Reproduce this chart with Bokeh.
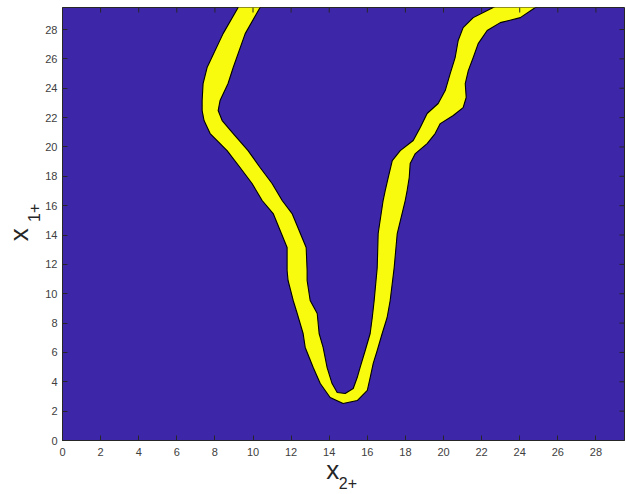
import math
from bokeh.plotting import figure
from bokeh.models import Range1d, FixedTicker, LinearAxis
from bokeh.embed import file_html
from bokeh.resources import INLINE

# Filled-contour band (upper level) traced as two boundary curves.
# outer: left edge of left arm -> around the bottom -> right edge of right arm
outer_x = [9.53, 9.22, 8.43, 7.59, 7.38, 7.33, 7.33, 7.43, 7.75, 8.64, 9.32, 9.95,
           10.48, 11.06, 11.79, 11.79, 11.84, 12.11, 12.32, 12.63, 12.74, 13.16,
           13.53, 14.05, 14.73, 15.47, 16.00, 16.15, 16.31, 16.52, 16.78, 17.04,
           17.20, 17.41, 17.57, 17.99, 18.09, 18.20, 18.25, 18.52, 19.14, 19.56,
           19.83, 20.51, 21.03, 21.19, 21.14, 21.30, 21.56, 21.82, 22.29, 22.98,
           24.03, 24.82, 25.62]
outer_y = [30.2, 29.5, 27.72, 25.41, 24.32, 23.16, 22.48, 21.80, 20.91, 19.75, 18.60,
           17.51, 16.35, 15.46, 13.15, 11.58, 10.90, 9.54, 8.65, 7.29, 6.34, 4.97,
           3.88, 2.93, 2.52, 2.72, 3.41, 4.29, 5.25, 6.13, 7.29, 8.38, 9.54, 11.78,
           14.10, 16.35, 17.03, 17.92, 18.87, 19.55, 20.23, 20.91, 21.59, 22.14,
           22.68, 23.37, 24.32, 25.20, 26.09, 27.04, 27.93, 28.47, 28.81, 29.5, 30.2]

# inner: right edge of left arm -> inner bottom -> left edge of right arm
inner_x = [10.68, 10.37, 9.59, 8.96, 8.69, 8.27, 8.17, 8.38, 8.96, 9.74, 10.37,
           11.00, 11.53, 12.05, 12.79, 12.84, 12.84, 13.00, 13.37, 13.47, 13.68,
           13.89, 14.15, 14.42, 14.84, 15.26, 15.47, 15.62, 15.89, 16.15, 16.26,
           16.36, 16.52, 16.57, 16.83, 16.94, 17.10, 17.31, 17.73, 18.41, 18.78,
           19.14, 19.72, 20.09, 20.35, 20.61, 20.77, 21.03, 21.56, 22.61, 23.67]
inner_y = [30.2, 29.5, 27.72, 25.41, 24.32, 23.16, 22.48, 21.80, 20.91, 19.75, 18.60,
           17.51, 16.35, 15.46, 13.15, 11.58, 10.90, 9.54, 8.65, 7.29, 6.34, 4.97,
           3.88, 3.27, 3.20, 3.54, 4.29, 4.97, 6.13, 7.29, 8.38, 9.54, 11.78, 14.10,
           16.35, 17.03, 17.92, 19.07, 19.75, 20.44, 21.32, 22.28, 22.96, 23.84,
           25.00, 26.09, 27.25, 28.13, 28.81, 29.5, 30.2]

tick_values = list(range(0, 30, 2))
axis_max = 29.5

# axis titles: main letter and its subscript, drawn as two stacked axis labels
NB = "\u00a0"
x_main, x_sub = "x" + NB * 3, NB * 2 + "2+"
y_main, y_sub = "x" + NB * 3, NB * 5 + "1+"

LOW = "#3E26A8"
HIGH = "#F9FB0E"
AX = "#262626"
FONT = "Liberation Sans"

p = figure(width=626, height=494,
           x_range=Range1d(0, axis_max), y_range=Range1d(0, axis_max),
           output_backend="svg", toolbar_location=None,
           min_border_left=62, min_border_right=2,
           min_border_top=7, min_border_bottom=54)
p.background_fill_color = LOW
p.border_fill_color = "white"
p.outline_line_color = AX
p.outline_line_width = 1
p.grid.visible = False

# band polygon: outer boundary then inner boundary in reverse
band_x = outer_x + inner_x[::-1]
band_y = outer_y + inner_y[::-1]
p.patch(band_x, band_y, fill_color=HIGH, line_color="black", line_width=1.1,
        line_join="round")

# inward ticks on the bottom and left axes
for ax in p.axis:
    ax.ticker = FixedTicker(ticks=tick_values)
    ax.major_tick_in = 5
    ax.major_tick_out = 0
    ax.minor_tick_line_color = None
    ax.major_tick_line_color = AX
    ax.axis_line_color = AX
    ax.major_label_text_font = FONT
    ax.major_label_text_font_size = "11px"
    ax.major_label_text_color = "#404040"
    ax.axis_label_text_font = FONT
    ax.axis_label_text_font_style = "normal"
    ax.axis_label_text_color = AX
p.xaxis.major_label_standoff = 7
p.yaxis.major_label_standoff = 5

# x title: "x" on the main axis, subscript on a bare axis beneath it
p.xaxis.axis_label = x_main
p.xaxis.axis_label_text_font_size = "26px"
p.xaxis.axis_label_standoff = -4
# y title: subscript next to the tick labels, "x" on a bare axis further out
p.yaxis.axis_label = y_sub
p.yaxis.axis_label_text_font_size = "16px"
p.yaxis.axis_label_standoff = -1


def bare_axis(label, size, standoff):
    return LinearAxis(ticker=FixedTicker(ticks=[]), axis_label=label,
                      axis_label_text_font=FONT, axis_label_text_font_size=size,
                      axis_label_text_font_style="normal",
                      axis_label_text_color=AX, axis_label_standoff=standoff,
                      axis_line_color=None, major_tick_line_color=None,
                      minor_tick_line_color=None, major_tick_out=0,
                      major_tick_in=0, major_label_standoff=0)


p.add_layout(bare_axis(x_sub, "16px", -13), "below")
p.add_layout(bare_axis(y_main, "26px", -10), "left")

# matching inward ticks along the top and right edges of the box
n = len(tick_values)
p.ray(x=tick_values, y=[axis_max] * n, length=5, length_units="screen",
      angle=-math.pi / 2, line_color=AX, line_width=1)
p.ray(x=[axis_max] * n, y=tick_values, length=5, length_units="screen",
      angle=math.pi, line_color=AX, line_width=1)

open("out.html", "w").write(file_html(p, INLINE))
